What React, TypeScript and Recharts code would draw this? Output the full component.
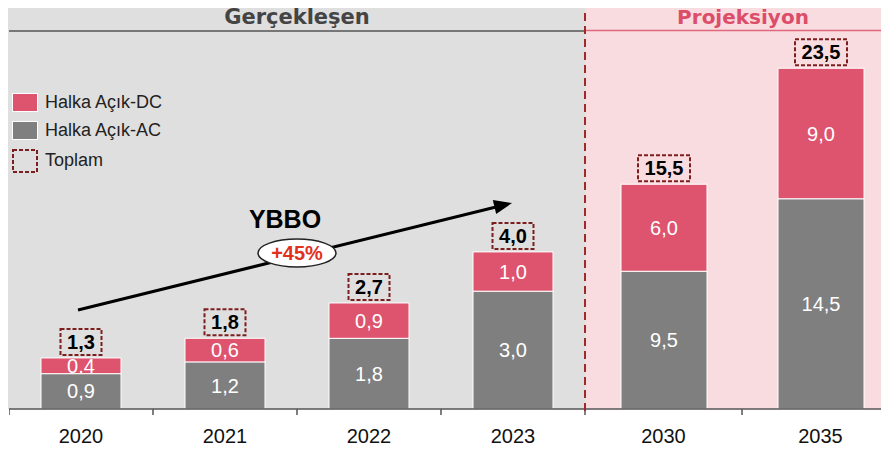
import React from "react";
import { Bar, BarChart, LabelList, XAxis, YAxis } from "recharts";

// Gerçekleşen (actual) period
const yearsReal = ["2020", "2021", "2022", "2023"];
const acReal = [0.9, 1.2, 1.8, 3.0];
const dcReal = [0.4, 0.6, 0.9, 1.0];
const totalReal = [1.3, 1.8, 2.7, 4.0];
const acRealLabels = ["0,9", "1,2", "1,8", "3,0"];
const dcRealLabels = ["0.4", "0,6", "0,9", "1,0"];
const totalRealLabels = ["1,3", "1,8", "2,7", "4,0"];

// Projeksiyon period
const yearsProj = ["2030", "2035"];
const acProj = [9.5, 14.5];
const dcProj = [6.0, 9.0];
const totalProj = [15.5, 23.5];
const acProjLabels = ["9,5", "14,5"];
const dcProjLabels = ["6,0", "9,0"];
const totalProjLabels = ["15,5", "23,5"];

const GRAY = "#7f7f7f";
const PINK = "#de536e";
const BOX_RED = "#7d1e1e";
const FONT = "'Liberation Sans', Arial, sans-serif";

const H = 454;

const realRows = yearsReal.map((year, i) => ({
  year,
  ac: acReal[i],
  dc: dcReal[i],
  total: totalReal[i],
  acLabel: acRealLabels[i],
  dcLabel: dcRealLabels[i],
  totalLabel: totalRealLabels[i],
}));

const projRows = yearsProj.map((year, i) => ({
  year,
  ac: acProj[i],
  dc: dcProj[i],
  total: totalProj[i],
  acLabel: acProjLabels[i],
  dcLabel: dcProjLabels[i],
  totalLabel: totalProjLabels[i],
}));

// category label with tick marks on the band edges
const EdgeTick = (props: any) => {
  const { x, y, payload, index, half, last } = props;
  return (
    <g>
      <line x1={x - half} x2={x - half} y1={y} y2={y + 6} stroke="#555" strokeWidth={1.5} />
      {index === last && (
        <line x1={x + half} x2={x + half} y1={y} y2={y + 6} stroke="#555" strokeWidth={1.5} />
      )}
      <text x={x} y={y + 34} textAnchor="middle" fontSize={20} fill="#111" fontFamily={FONT}>
        {payload.value}
      </text>
    </g>
  );
};

// dashed box with the stack total above the bar
const TotalBox = (props: any) => {
  const { x, y, width, value } = props;
  const cx = x + width / 2;
  const w = String(value).length * 11 + 8;
  const bottom = y - 3;
  return (
    <g>
      <rect
        x={cx - w / 2}
        y={bottom - 26}
        width={w}
        height={26}
        fill="none"
        stroke={BOX_RED}
        strokeWidth={2}
        strokeDasharray="4 2"
      />
      <text
        x={cx}
        y={bottom - 6}
        textAnchor="middle"
        fontSize={20}
        fontWeight="bold"
        fill="#000"
        fontFamily={FONT}
      >
        {value}
      </text>
    </g>
  );
};

type PanelProps = {
  rows: typeof realRows;
  width: number;
  max: number;
  barSize: number;
};

const Panel = ({ rows, width, max, barSize }: PanelProps) => {
  const half = width / rows.length / 2;
  return (
    <BarChart
      width={width}
      height={H}
      data={rows}
      margin={{ top: 32, right: 0, bottom: 0, left: 0 }}
      barSize={barSize}
    >
      <XAxis
        dataKey="year"
        height={45}
        interval={0}
        axisLine={{ stroke: "#555", strokeWidth: 1.5 }}
        tickLine={false}
        tickSize={0}
        tickMargin={0}
        tick={(p: any) => <EdgeTick {...p} half={half} last={rows.length - 1} />}
      />
      <YAxis hide domain={[0, max]} />
      <Bar dataKey="ac" stackId="s" fill={GRAY} stroke="#fff" strokeWidth={1} isAnimationActive={false}>
        <LabelList dataKey="acLabel" position="center" fill="#fff" fontSize={20} fontFamily={FONT} />
      </Bar>
      <Bar dataKey="dc" stackId="s" fill={PINK} stroke="#fff" strokeWidth={1} isAnimationActive={false}>
        <LabelList dataKey="dcLabel" position="center" fill="#fff" fontSize={20} fontFamily={FONT} />
        <LabelList dataKey="totalLabel" content={(p: any) => <TotalBox {...p} />} />
      </Bar>
    </BarChart>
  );
};

export default function App() {
  return (
    <div
      style={{
        position: "relative",
        width: 889,
        height: H,
        margin: -8,
        overflow: "hidden",
        background: "#fff",
        fontFamily: FONT,
      }}
    >
      <div style={{ position: "absolute", left: 7, top: 0, width: 578, height: 409, background: "#dfdfdf" }} />
      <div style={{ position: "absolute", left: 585, top: 0, width: 304, height: 409, background: "#f9dce0" }} />
      <div style={{ position: "absolute", left: 9, top: 0 }}>
        <Panel rows={realRows} width={576} max={9.6} barSize={80} />
      </div>
      <div style={{ position: "absolute", left: 585, top: 0 }}>
        <Panel rows={projRows} width={314} max={26} barSize={86} />
      </div>
      <svg
        width={889}
        height={H}
        style={{ position: "absolute", left: 0, top: 0, pointerEvents: "none" }}
        fontFamily={FONT}
      >
        {/* headers */}
        <line x1={9} x2={585} y1={31} y2={31} stroke="#555" strokeWidth={1.5} />
        <line x1={585} x2={889} y1={30.5} y2={30.5} stroke="#e0687e" strokeWidth={1.5} />
        <text x={297} y={24} textAnchor="middle" fontSize={21} fontWeight="bold" fill="#444"
          fontFamily="'DejaVu Sans', sans-serif">
          Gerçekleşen
        </text>
        <text x={743} y={24} textAnchor="middle" fontSize={20} fontWeight="bold" fill="#dc4d69"
          fontFamily="'DejaVu Sans', sans-serif">
          Projeksiyon
        </text>
        {/* divider */}
        <line x1={585} x2={585} y1={0} y2={414} stroke="#9e2a2a" strokeWidth={2} strokeDasharray="8 5" />

        {/* legend */}
        <rect x={12.5} y={93.5} width={25} height={18} fill={PINK} stroke="#fff" strokeWidth={1} />
        <rect x={12.5} y={121.5} width={25} height={18} fill={GRAY} stroke="#fff" strokeWidth={1} />
        <rect x={13} y={150} width={24} height={22} fill="none" stroke={BOX_RED} strokeWidth={2} strokeDasharray="4 2" />
        <text x={45} y={108} fontSize={18} fill="#222">Halka Açık-DC</text>
        <text x={45} y={136} fontSize={18} fill="#222">Halka Açık-AC</text>
        <text x={45} y={166} fontSize={18} fill="#222">Toplam</text>

        {/* YBBO growth arrow */}
        <line x1={78} y1={310} x2={495} y2={207.2} stroke="#000" strokeWidth={3} />
        <polygon points="512,203 496.2,214.1 492.8,200.1" fill="#000" />
        <text x={285} y={228} textAnchor="middle" fontSize={25} fontWeight="bold" fill="#000">
          YBBO
        </text>
        <ellipse cx={297} cy={253} rx={39} ry={14} fill="#fff" stroke="#222" strokeWidth={1.5} />
        <text x={297} y={260} textAnchor="middle" fontSize={20} fontWeight="bold" fill="#e2301f">
          +45%
        </text>
      </svg>
    </div>
  );
}
